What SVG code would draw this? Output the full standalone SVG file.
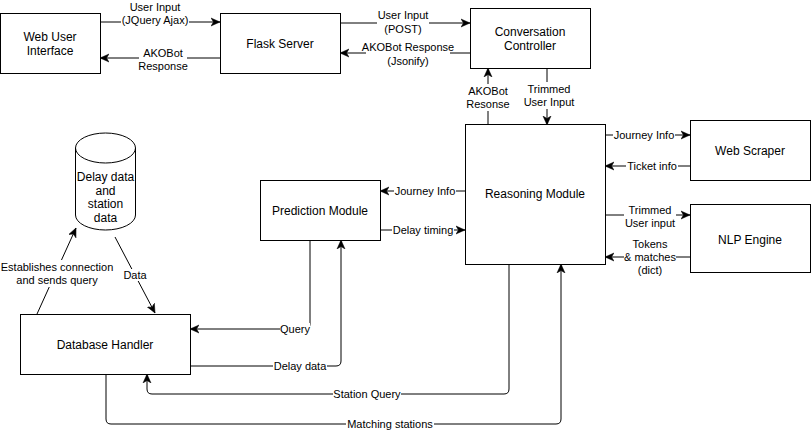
<svg xmlns="http://www.w3.org/2000/svg" width="811" height="434" viewBox="0 0 811 434">
<style>
.box{fill:#fff;stroke:#000;stroke-width:1}
.nt{font-family:"Liberation Sans",Arial,sans-serif;font-size:12px;fill:#000;text-anchor:middle;dominant-baseline:central}
.lbl{font-family:"Liberation Sans",Arial,sans-serif;font-size:11px;fill:#000;text-anchor:middle;dominant-baseline:central}
.bg{fill:#fff;stroke:none}
.edge{fill:none;stroke:#000;stroke-width:1;marker-end:url(#arr)}
</style>
<defs>
<marker id="arr" markerUnits="userSpaceOnUse" markerWidth="10" markerHeight="10" viewBox="0 0 10 10" refX="9" refY="5" orient="auto">
<path d="M0,1 L9,5 L0,9 L2.5,5 Z" fill="#000" stroke="#000" stroke-width="0.5"/>
</marker>
</defs>
<rect width="811" height="434" fill="#fff"/>
<g id="connectors">
<path class="edge" d="M100,22 H220"/>
<path class="edge" d="M220,58 H100"/>
<path class="edge" d="M340,23 H470"/>
<path class="edge" d="M470,53 H340"/>
<path class="edge" d="M488,125 V68"/>
<path class="edge" d="M547,68 V125"/>
<path class="edge" d="M605,135 H690"/>
<path class="edge" d="M690,166 H605"/>
<path class="edge" d="M605,215 H690"/>
<path class="edge" d="M690,257 H605"/>
<path class="edge" d="M465,191 H380"/>
<path class="edge" d="M380,230 H465"/>
<path class="edge" d="M310,240 V324 Q310,329 305,329 H190"/>
<path class="edge" d="M190,366 H336 Q341,366 341,361 V240"/>
<path class="edge" d="M509,264 V389 Q509,394 504,394 H152 Q147,394 147,389 V374"/>
<path class="edge" d="M106,374 V419 Q106,424 111,424 H556 Q561,424 561,419 V264"/>
<path class="edge" d="M37,314 L76,228"/>
<path class="edge" d="M115,237 L155,313"/>
<rect class="bg" x="121" y="0" width="68" height="27"/>
<rect class="bg" x="139" y="46" width="48" height="27"/>
<rect class="bg" x="377" y="8" width="52" height="28"/>
<rect class="bg" x="366" y="40" width="84" height="28"/>
<rect class="bg" x="467" y="84" width="42" height="27"/>
<rect class="bg" x="523" y="82" width="52" height="27"/>
<rect class="bg" x="613" y="129" width="62" height="12"/>
<rect class="bg" x="626" y="160" width="52" height="12"/>
<rect class="bg" x="624" y="203" width="52" height="27"/>
<rect class="bg" x="624" y="237" width="52" height="40"/>
<rect class="bg" x="394" y="185" width="62" height="12"/>
<rect class="bg" x="392" y="224" width="62" height="12"/>
<rect class="bg" x="280" y="323" width="30" height="12"/>
<rect class="bg" x="273" y="360" width="54" height="12"/>
<rect class="bg" x="333" y="388" width="68" height="12"/>
<rect class="bg" x="346" y="418" width="88" height="12"/>
<rect class="bg" x="1" y="260" width="112" height="27"/>
<rect class="bg" x="123" y="269" width="24" height="12"/>
<text class="lbl" x="155" y="7">User Input</text>
<text class="lbl" x="155" y="20">(JQuery Ajax)</text>
<text class="lbl" x="163" y="53">AKOBot</text>
<text class="lbl" x="163" y="66">Response</text>
<text class="lbl" x="403" y="15">User Input</text>
<text class="lbl" x="403" y="29">(POST)</text>
<text class="lbl" x="408" y="47">AKOBot Response</text>
<text class="lbl" x="408" y="61">(Jsonify)</text>
<text class="lbl" x="488" y="91">AKOBot</text>
<text class="lbl" x="488" y="104">Resonse</text>
<text class="lbl" x="549" y="89">Trimmed</text>
<text class="lbl" x="549" y="102">User Input</text>
<text class="lbl" x="644" y="135">Journey Info</text>
<text class="lbl" x="652" y="166">Ticket info</text>
<text class="lbl" x="650" y="210">Trimmed</text>
<text class="lbl" x="650" y="223">User input</text>
<text class="lbl" x="650" y="244">Tokens</text>
<text class="lbl" x="650" y="257">&amp; matches</text>
<text class="lbl" x="650" y="270">(dict)</text>
<text class="lbl" x="425" y="191">Journey Info</text>
<text class="lbl" x="423" y="230">Delay timing</text>
<text class="lbl" x="295" y="329">Query</text>
<text class="lbl" x="300" y="366">Delay data</text>
<text class="lbl" x="367" y="394">Station Query</text>
<text class="lbl" x="390" y="424">Matching stations</text>
<text class="lbl" x="57" y="267">Establishes connection</text>
<text class="lbl" x="57" y="280">and sends query</text>
<text class="lbl" x="135" y="275">Data</text>
</g>
<g id="web-ui">
<rect class="box" x="0.5" y="13.5" width="100" height="60"/>
<text class="nt" x="50" y="37">Web User</text>
<text class="nt" x="50" y="51">Interface</text>
</g>
<g id="flask-server">
<rect class="box" x="220.5" y="13.5" width="120" height="60"/>
<text class="nt" x="280" y="44">Flask Server</text>
</g>
<g id="conversation-controller">
<rect class="box" x="470.5" y="8.5" width="120" height="60"/>
<text class="nt" x="530" y="32">Conversation</text>
<text class="nt" x="530" y="46">Controller</text>
</g>
<g id="reasoning-module">
<rect class="box" x="465.5" y="124.5" width="140" height="140"/>
<text class="nt" x="535" y="194">Reasoning Module</text>
</g>
<g id="web-scraper">
<rect class="box" x="690.5" y="120.5" width="120" height="60"/>
<text class="nt" x="750" y="151">Web Scraper</text>
</g>
<g id="nlp-engine">
<rect class="box" x="690.5" y="204.5" width="120" height="68"/>
<text class="nt" x="750" y="240">NLP Engine</text>
</g>
<g id="prediction-module">
<rect class="box" x="260.5" y="180.5" width="120" height="60"/>
<text class="nt" x="320" y="211">Prediction Module</text>
</g>
<g id="database-handler">
<rect class="box" x="20.5" y="314.5" width="170" height="60"/>
<text class="nt" x="105" y="345">Database Handler</text>
</g>
<g id="database">
<path class="box" d="M75.5,148 A30,15 0 0 1 135.5,148 V215 A30,15 0 0 1 75.5,215 Z"/>
<path d="M75.5,148 A30,15 0 0 0 135.5,148" fill="none" stroke="#000"/>
<text class="nt" x="105.5" y="177">Delay data</text>
<text class="nt" x="105.5" y="191">and</text>
<text class="nt" x="105.5" y="204">station</text>
<text class="nt" x="105.5" y="218">data</text>
</g>
</svg>
